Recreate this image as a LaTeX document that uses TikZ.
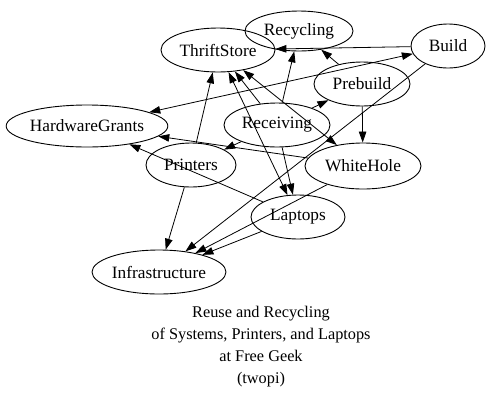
\documentclass[tikz,border=0pt]{standalone}
\usepackage{fontspec}
\setmainfont{Liberation Serif}
\usetikzlibrary{shapes.geometric,arrows.meta}
\tikzset{
  gnode/.style={draw=black, line width=0.9pt, ellipse, inner sep=0pt,
    font=\fontsize{17.3}{20}\selectfont},
  gedge/.style={draw=black, line width=0.8pt, -{Triangle[length=11pt,width=7.5pt]}},
  gboth/.style={draw=black, line width=0.8pt, {Triangle[length=11pt,width=7.5pt]}-{Triangle[length=11pt,width=7.5pt]}}
}
\begin{document}
\begin{tikzpicture}[x=1pt,y=-1pt]
\useasboundingbox (0,0) rectangle (495,400);
\node[gnode, minimum width=114pt, minimum height=44pt] (TS) at (218,50) {ThriftStore};
\node[gnode, minimum width=108pt, minimum height=40pt] (RC) at (299,31) {Recycling};
\node[gnode, minimum width=74pt, minimum height=44pt] (BU) at (448,46) {Build};
\node[gnode, minimum width=96pt, minimum height=44pt] (PB) at (362,84) {Prebuild};
\node[gnode, minimum width=156pt, minimum height=42pt] (HG) at (87,126) {HardwareGrants};
\node[gnode, minimum width=106pt, minimum height=44pt] (RV) at (277,125) {Receiving};
\node[gnode, minimum width=90pt, minimum height=44pt] (PR) at (191,165) {Printers};
\node[gnode, minimum width=116pt, minimum height=46pt] (WH) at (363,166) {WhiteHole};
\node[gnode, minimum width=94pt, minimum height=44pt] (LT) at (298,217) {Laptops};
\node[gnode, minimum width=134pt, minimum height=44pt] (IN) at (159,272) {Infrastructure};

\draw[gedge] (BU) -- (TS);
\draw[gboth] (BU) -- (HG);
\draw[gedge] (BU) -- (IN);
\draw[gedge] (PB) -- (RC);
\draw[gedge] (PB) -- (WH);
\draw[gedge] (RV) -- (PB);
\draw[gedge] (RV) -- (RC);
\draw[gedge] (RV) -- (TS);
\draw[gedge] (RV) -- (PR);
\draw[gedge] (RV) -- (LT);
\draw[gboth] (TS) -- (WH);
\draw[gboth] (TS) -- (LT);
\draw[gedge] (PR) -- (TS);
\draw[gedge] (PR) -- (IN);
\draw[gedge] (WH) -- (HG);
\draw[gedge] (WH) -- (IN);
\draw[gedge] (LT) -- (HG);
\draw[gedge] (LT) -- (IN);

\node[align=center, anchor=north, inner sep=0pt,
  font=\fontsize{16.3}{22}\selectfont] (title) at (261,306)
  {Reuse and Recycling\\of Systems, Printers, and Laptops\\at Free Geek\\(twopi)};
\end{tikzpicture}
\end{document}
